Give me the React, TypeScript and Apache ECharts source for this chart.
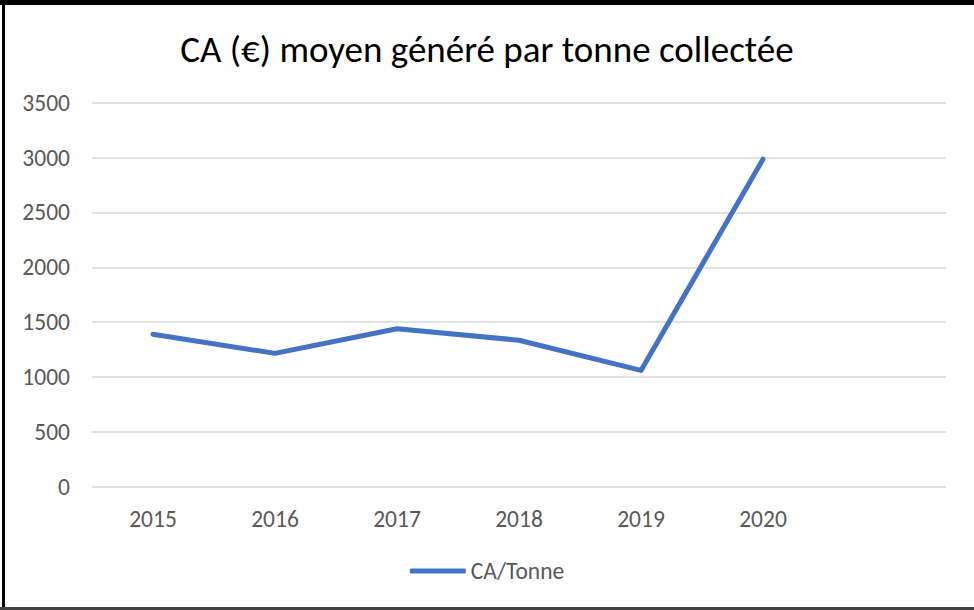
import React, { useEffect, useRef } from "react";
import * as echarts from "echarts";

const title = "CA (€) moyen généré par tonne collectée";
const categories = ["2015", "2016", "2017", "2018", "2019", "2020", ""];
const seriesName = "CA/Tonne";
const values = [1390, 1215, 1440, 1335, 1060, 2985];

export default function App() {
  const ref = useRef<HTMLDivElement>(null);
  useEffect(() => {
    if (!ref.current) return;
    const chart = echarts.init(ref.current, undefined, { renderer: "svg" });
    const font = "Carlito, 'Open Sans', 'Noto Sans', sans-serif";
    chart.setOption({
      animation: false,
      backgroundColor: "#ffffff",
      title: {
        text: title,
        left: "center",
        top: 26,
        textStyle: { fontFamily: font, fontSize: 37, fontWeight: "normal", color: "#000000" },
      },
      grid: { left: 92, right: 28, top: 102.7, bottom: 123.3, containLabel: false },
      legend: {
        data: [seriesName],
        bottom: 22,
        left: "center",
        icon: "roundRect",
        itemWidth: 56,
        itemHeight: 5,
        itemGap: 4,
        textStyle: { fontFamily: font, fontSize: 23.5, color: "#595959" },
      },
      xAxis: {
        type: "category",
        data: categories,
        boundaryGap: true,
        axisLine: { show: false },
        axisTick: { show: false },
        axisLabel: { fontFamily: font, fontSize: 23.5, color: "#595959", margin: 20 },
      },
      yAxis: {
        type: "value",
        min: 0,
        max: 3500,
        interval: 500,
        axisLine: { show: false },
        axisTick: { show: false },
        axisLabel: {
          fontFamily: font,
          fontSize: 23.5,
          color: "#595959",
          margin: 22,
          formatter: (v: number) => String(v),
        },
        splitLine: { lineStyle: { color: "#d9d9d9", width: 1.5 } },
      },
      series: [
        {
          name: seriesName,
          type: "line",
          data: values,
          showSymbol: false,
          symbol: "none",
          itemStyle: { color: "#4472C4" },
          lineStyle: { color: "#4472C4", width: 5, cap: "round", join: "round" },
        },
      ],
      graphic: [
        { type: "rect", shape: { x: 0, y: 0, width: 974, height: 5 }, style: { fill: "#000" }, silent: true },
        { type: "rect", shape: { x: 2, y: 0, width: 3, height: 610 }, style: { fill: "#000" }, silent: true },
        { type: "rect", shape: { x: 0, y: 607, width: 974, height: 3 }, style: { fill: "#404040" }, silent: true },
      ],
    });
    return () => chart.dispose();
  }, []);
  return (
    <div
      ref={ref}
      style={{ position: "fixed", left: 0, top: 0, width: 974, height: 610 }}
    />
  );
}
